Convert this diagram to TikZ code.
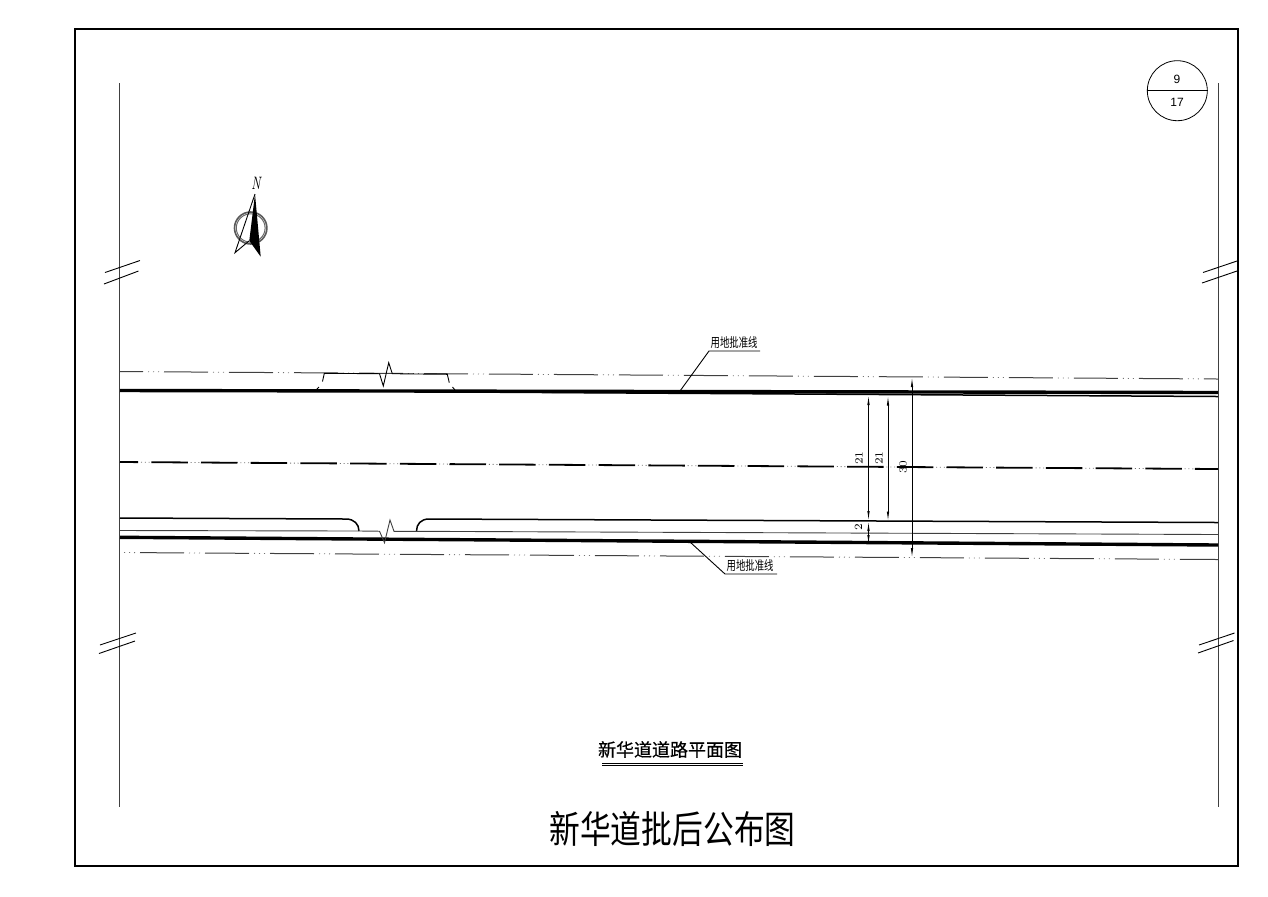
\documentclass[tikz,border=0pt]{standalone}
\usepackage{fontspec}
\newfontfamily\cjk{Noto Sans CJK SC}
\newfontfamily\cjkplan[FakeBold=0.5]{Noto Sans CJK SC}
\newfontfamily\sheetfont{Liberation Sans}
\usetikzlibrary{arrows.meta}
\tikzset{>={Latex[length=5pt,width=1.2pt]}}
\tikzset{
  thinline/.style={line width=.45pt,black!75},
  kerbline/.style={line width=.75pt,black},
  edgeline/.style={line width=1.7pt,black},
  limitline/.style={line width=.5pt,black!75,dash pattern=on 22pt off 10.5pt},
  limitdots/.style={line width=.4pt,black!55,dash pattern=on .5pt off 2pt on .5pt off 2pt on .5pt off 27pt},
  axisline/.style={line width=.9pt,black,dash pattern=on 18.25pt off 6.6pt},
  axisdots/.style={line width=.4pt,black!55,dash pattern=on .5pt off 1.4pt on .5pt off 1.4pt on .5pt off 20.55pt},
  dimline/.style={line width=.4pt,black,<->},
  dimtext/.style={font=\fontsize{5.5}{5.5}\selectfont,rotate=90,inner sep=0pt},
  landtext/.style={font=\cjk\fontsize{6.5}{6.5}\selectfont,xscale=.72,transform shape,inner sep=1pt},
}
\begin{document}
\begin{tikzpicture}[x=.5pt,y=-.5pt]
\useasboundingbox (0,0) rectangle (1268,896);
\draw[line width=1pt] (75,29) rectangle (1238,866);
\coordinate (lt) at (119.5,83);
\coordinate (lb) at (119.5,807);
\coordinate (rt) at (1218.5,83);
\coordinate (rb) at (1218.5,807);
\draw[thinline] (lt) -- (lb);
\draw[thinline] (rt) -- (rb);
% break marks
\foreach \xa/\ya/\xb/\yb in {105/272.5/140/260.5,104/284/138.5/271,1203/272.5/1237/261,1202/283/1237/271,
    100/645/136/633,99/653.5/135/641,1199/645/1234.5/633,1198/653/1233.5/640.5}
  \draw[thinline,black] (\xa,\ya) -- (\xb,\yb);
% road lines
\draw[limitline,dash phase=10.5pt] (120,371.5) -- (1218,379);
\draw[limitdots,dash phase=18.5pt] (120,371.5) -- (1218,379);
\draw[limitline,dash phase=22.5pt] (120,552.5) -- (1218,559.5);
\draw[limitdots,dash phase=30.5pt] (120,552.5) -- (1218,559.5);
\draw[axisline,dash phase=9.2pt] (120,462) -- (1218,469);
\draw[axisdots,dash phase=14.35pt] (120,462) -- (1218,469);
\draw[edgeline] (120,390.5) -- (1218,392.5);
\draw[kerbline] (460,392) -- (1218,396.5);
\draw[edgeline] (120,537.3) -- (1218,545);
\draw[kerbline] (120,518) -- (346,519) .. controls (354,519) and (359,524) .. (359,531);
\draw[kerbline] (416.5,531) .. controls (416.5,524) and (421,519) .. (429,519) -- (1218,522.5);
\draw[thinline] (120,530.5) -- (359,531) -- (379.5,531.2) -- (384.5,542.7) -- (390,520) -- (394,531.3) -- (416.5,531.3) -- (1218,534.5);
% access at the top
\draw[thinline,black] (316.5,389.5) -- (319,387);
\draw[thinline,black] (322.5,381.5) -- (324.3,373.3) -- (379.5,373.7) -- (383.3,386) -- (388.7,362.7) -- (392.3,373.7) -- (447.3,374.3) -- (449.3,382.7);
\draw[thinline,black] (452.5,387) -- (455,390);
% dimensions
\coordinate (da) at (868.5,395);
\coordinate (db) at (868.5,521);
\coordinate (dc) at (868.5,545);
\coordinate (dd) at (888,395.5);
\coordinate (de) at (888,521.5);
\coordinate (df) at (912,377);
\coordinate (dg) at (912,558);
\draw[dimline] (da) -- (db);
\draw[dimline] (db) -- (dc);
\draw[dimline] (dd) -- (de);
\draw[dimline] (df) -- (dg);
\node[dimtext] (wa) at (859,458) {21};
\node[dimtext] (wb) at (879,458) {21};
\node[dimtext] (wc) at (903,467) {30};
\node[dimtext] (wd) at (858.5,527) {2};
% land limit labels
\node[landtext,anchor=south west] (up) at (709,351) {用地批准线};
\node[landtext,anchor=south west] (dn) at (725,574) {用地批准线};
\coordinate (upend) at (680,391);
\coordinate (upline) at (760,351);
\coordinate (dnend) at (690,542);
\coordinate (dnline) at (777,574);
\draw[thinline,black] (upend) -- (up.south west) -- (upline);
\draw[thinline,black] (dnend) -- (dn.south west) -- (dnline);
% north arrow
\node[font=\fontsize{9}{9}\selectfont\itshape,xscale=.68,transform shape,inner sep=0pt] (north) at (256,183) {N};
\draw[line width=.8pt,black!65] (250.7,228) ellipse (16.2 and 16);
\draw[line width=.5pt,black!60] (250.7,228) ellipse (14.4 and 14.2);
\draw[thinline,black] (255,194) -- (235,252.7) -- (249.3,240.7);
\fill (255,194) -- (249.3,240.7) -- (260.7,256.7) -- cycle;
% sheet number
\node[circle,draw,line width=.4pt,minimum size=30pt,inner sep=0pt] (sheet) at (1177.3,90.7) {};
\draw[line width=.4pt] (sheet.west) -- (sheet.east);
\node[font=\sheetfont\fontsize{6}{6}\selectfont,inner sep=0pt] (sheetno) at (1177,79) {9};
\node[font=\sheetfont\fontsize{6}{6}\selectfont,inner sep=0pt] (sheetall) at (1177,102) {17};
% titles
\node[font=\cjkplan\fontsize{9}{9}\selectfont,inner sep=0pt] (plan) at (670,749.5) {新华道道路平面图};
\coordinate (pa) at (602,763.5);
\coordinate (pb) at (743,763.5);
\coordinate (pc) at (602,765.8);
\coordinate (pd) at (743,765.8);
\draw[line width=.5pt] (pa) -- (pb);
\draw[line width=.5pt] (pc) -- (pd);
\node[font=\cjk\fontsize{19}{19}\selectfont,xscale=.81,transform shape,inner sep=0pt] (title) at (672.5,829.5) {新华道批后公布图};
\end{tikzpicture}
\end{document}
